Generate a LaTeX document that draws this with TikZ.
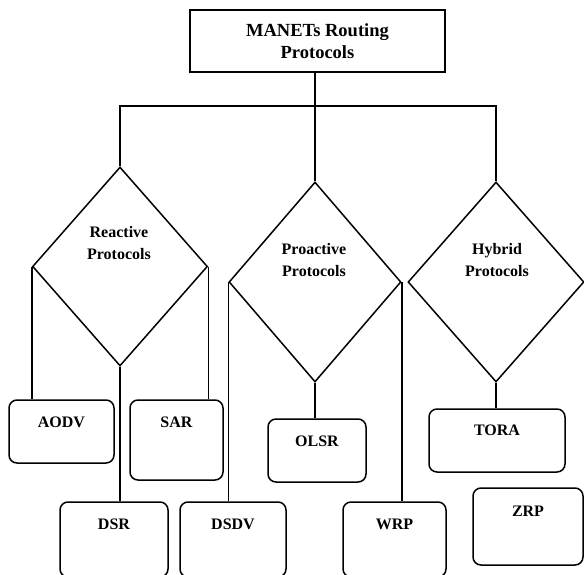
\documentclass[tikz,border=0pt]{standalone}
\usepackage{fontspec}
\setmainfont{Liberation Serif}
\usetikzlibrary{shapes.geometric}
\begin{document}
\begin{tikzpicture}[x=1pt,y=-1pt,
  line width=1.5pt,
  topbox/.style={draw, rectangle, inner sep=0pt, minimum width=255pt, minimum height=62pt,
    font=\bfseries\fontsize{18.5}{22}\selectfont, align=center},
  dia/.style={draw, diamond, inner sep=0pt},
  dlbl/.style={font=\bfseries\fontsize{16}{22}\selectfont, align=center, inner sep=0pt},
  rbox/.style={draw, rectangle, rounded corners=8pt, inner sep=0pt},
  blbl/.style={font=\bfseries\fontsize{16}{19}\selectfont, inner sep=0pt}
]
\clip (0,0) rectangle (584,574);
\fill[white] (0,0) rectangle (584,574);

% top box
\node[topbox] (top) at (317.5,41) {MANETs Routing\\Protocols};

% diamonds
\node[dia, minimum width=175pt, minimum height=199pt] (rea) at (120,266.5) {};
\node[dia, minimum width=172pt, minimum height=200pt] (pro) at (315,282) {};
\node[dia, minimum width=176pt, minimum height=200pt] (hyb) at (496,282) {};
\node[dlbl] (real) at (119,243) {Reactive\\Protocols};
\node[dlbl] (prol) at (314,260) {Proactive\\Protocols};
\node[dlbl] (hybl) at (497,260) {Hybrid\\Protocols};

% rounded boxes
\node[rbox, minimum width=105pt, minimum height=63pt] (aodv) at (61.5,431.5) {};
\node[rbox, minimum width=93pt, minimum height=80pt] (sar) at (176.5,440) {};
\node[rbox, minimum width=108pt, minimum height=75pt] (dsr) at (114,539.5) {};
\node[rbox, minimum width=106pt, minimum height=75pt] (dsdv) at (233,539.5) {};
\node[rbox, minimum width=98pt, minimum height=63pt] (olsr) at (317,450.5) {};
\node[rbox, minimum width=103pt, minimum height=75pt] (wrp) at (394.5,539.5) {};
\node[rbox, minimum width=136pt, minimum height=63pt] (tora) at (497,440.5) {};
\node[rbox, minimum width=110pt, minimum height=77pt] (zrp) at (528,526.5) {};

\node[blbl] (aodvl) at ([yshift=-23pt]aodv.north) {AODV};
\node[blbl] (sarl) at ([yshift=-23pt]sar.north) {SAR};
\node[blbl] (dsrl) at ([yshift=-23pt]dsr.north) {DSR};
\node[blbl] (dsdvl) at ([yshift=-23pt]dsdv.north) {DSDV};
\node[blbl] (olsrl) at ([yshift=-23pt]olsr.north) {OLSR};
\node[blbl] (wrpl) at ([yshift=-23pt]wrp.north) {WRP};
\node[blbl] (toral) at ([yshift=-22pt]tora.north) {TORA};
\node[blbl] (zrpl) at ([yshift=-24pt]zrp.north) {ZRP};

% connectors
\coordinate (bus) at (0,106);
\draw (pro.north |- top.south) -- (pro.north);
\draw (rea.north) -- (rea.north |- bus) -- (hyb.north |- bus) -- (hyb.north);

\draw (rea.west) -- (rea.west |- aodv.north);
\draw (rea.east) -- (rea.east |- sar.north);
\draw (rea.south) -- (rea.south |- dsr.north);

\draw (pro.west) -- (pro.west |- dsdv.north);
\draw (pro.south) -- (pro.south |- olsr.north);
\draw (pro.east) -- (pro.east |- wrp.north);

\draw (hyb.south) -- (hyb.south |- tora.north);
\end{tikzpicture}
\end{document}
